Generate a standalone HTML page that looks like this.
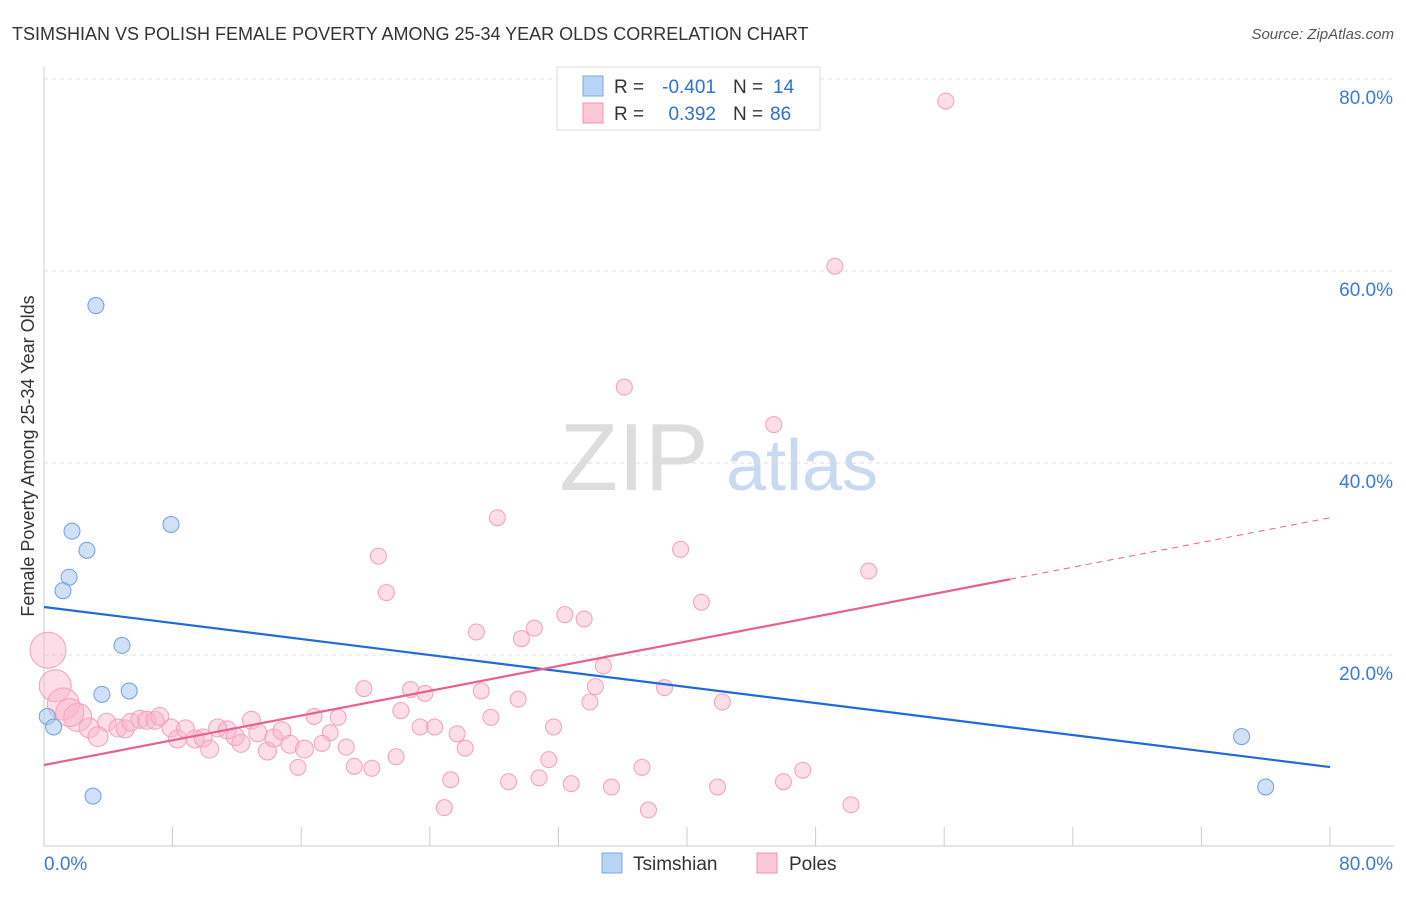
<!DOCTYPE html>
<html><head><meta charset="utf-8"><style>
body{margin:0;background:#fff;font-family:"Liberation Sans",sans-serif}
svg text{font-family:"Liberation Sans",sans-serif}
</style></head><body>
<svg id="c" width="1406" height="892" xmlns="http://www.w3.org/2000/svg">
<text x="12" y="40" font-size="18" fill="#333">TSIMSHIAN VS POLISH FEMALE POVERTY AMONG 25-34 YEAR OLDS CORRELATION CHART</text>
<text x="1394" y="39" font-size="15" fill="#555" font-style="italic" text-anchor="end">Source: ZipAtlas.com</text>
<g>
<text x="634" y="490" font-size="96" fill="#ddd" font-family="Liberation Serif" text-anchor="middle">ZIP</text>
<text x="802" y="490" font-size="72" fill="#c9d9f0" text-anchor="middle">atlas</text>
</g>
<g id="grid"></g><g id="axes"></g><g id="marks"></g>
<text transform="translate(34,456) rotate(-90)" font-size="18" fill="#333" text-anchor="middle">Female Poverty Among 25-34 Year Olds</text>
<g>
<rect x="557" y="67" width="263" height="63" fill="#fff" stroke="#ddd"/>
<rect x="583" y="76" width="20" height="20" fill="#b8d4f5" stroke="#7aa9e6"/>
<rect x="583" y="103" width="20" height="20" fill="#fbc8d8" stroke="#ef93b2"/>
<text x="614" y="93" font-size="19" fill="#333">R =</text>
<text x="716" y="93" font-size="19" fill="#2e6fd6" text-anchor="end">-0.401</text>
<text x="733" y="93" font-size="19" fill="#333">N =</text>
<text x="773" y="93" font-size="19" fill="#2e6fd6">14</text>
<text x="614" y="120" font-size="19" fill="#333">R =</text>
<text x="716" y="120" font-size="19" fill="#2e6fd6" text-anchor="end">0.392</text>
<text x="733" y="120" font-size="19" fill="#333">N =</text>
<text x="770" y="120" font-size="19" fill="#2e6fd6">86</text>
</g>
<g>
<rect x="602" y="853" width="20" height="20" fill="#b8d4f5" stroke="#7aa9e6"/>
<text x="633" y="870" font-size="19" fill="#333">Tsimshian</text>
<rect x="757" y="853" width="20" height="20" fill="#fbc8d8" stroke="#ef93b2"/>
<text x="789" y="870" font-size="19" fill="#333">Poles</text>
</g>
</svg>
<script>
const blueX=[3.23,1.74,7.9,2.67,1.56,1.18,4.85,3.6,5.3,0.2,0.6,3.05,74.5,76.0];
const blueY=[56.4,32.9,33.6,30.9,28.1,26.7,21.0,15.9,16.25,13.6,12.5,5.3,11.5,6.25];
const pinkX=[56.1,49.2,36.1,45.4,28.2,39.6,20.8,51.3,21.3,40.9,32.4,33.6,30.5,26.9,29.7,34.8,34.3,19.9,38.6,22.8,23.7,27.2,29.5,33.96,42.2,22.2,16.8,18.3,27.8,31.7,23.4,24.3,17.8,25.7,17.3,18.8,26.2,21.9,31.4,15.8,19.3,20.4,37.2,47.2,25.3,28.9,30.8,32.8,35.3,41.9,46.0,24.9,37.6,50.2,0.25,0.7,1.2,2.1,2.8,3.36,3.9,4.6,5.05,5.4,5.97,6.4,6.9,7.2,7.9,8.3,8.8,9.4,9.9,10.3,10.8,11.4,11.9,12.25,12.9,13.3,13.9,14.3,14.8,15.3,16.2,1.6];
const pinkY=[77.7,60.5,47.9,44.0,34.3,31.0,30.3,28.75,26.5,25.5,24.2,23.75,22.8,22.4,21.7,18.85,16.7,16.5,16.6,16.4,16.0,16.25,15.4,15.1,15.1,14.2,13.6,13.5,13.5,12.5,12.5,12.5,11.9,11.8,10.8,10.4,10.3,9.4,9.1,8.3,8.4,8.2,8.3,8.0,7.0,6.8,7.2,6.6,6.25,6.25,6.8,4.1,3.85,4.4,20.5,16.8,14.9,13.5,12.4,11.5,13.0,12.4,12.3,13.0,13.3,13.2,13.2,13.6,12.4,11.25,12.3,11.25,11.35,10.2,12.4,12.2,11.5,10.8,13.2,11.9,10.0,11.35,12.1,10.7,10.2,14.0];
const pinkR=[8,8,8,8,8,8,8,8,8,8,8,8,8,8,8,8,8,8,8,8,8,8,8,8,8,8,8,8,8,8,8,8,8,8,8,8,8,8,8,8,8,8,8,8,8,8,8,8,8,8,8,8,8,8,18,16,16,14,10,10,9,9,9,9,9,9,9,9,9,9,9,9,9,9,9,9,9,9,9,9,9,9,9,9,9,14];
const yTicks=[20,40,60,80];
const yTickLabels=["20.0%","40.0%","60.0%","80.0%"];
const xTicks=[0,8,16,24,32,40,48,56,64,72,80];
const blueTrend=[25.0,8.33];
const pinkTrend=[8.54,34.3];
const pinkSolidEnd=60.1;
const X=v=>44+v*16.075, Y=v=>847-v*9.6;
const NS="http://www.w3.org/2000/svg";
function mk(p,t,a){const e=document.createElementNS(NS,t);for(const k in a)e.setAttribute(k,a[k]);p.appendChild(e);return e;}
const gridG=document.getElementById('grid'),axesG=document.getElementById('axes'),marksG=document.getElementById('marks');
yTicks.forEach((t,i)=>{const l=mk(gridG,'line',{x1:44,x2:1394,y1:Y(t),y2:Y(t),stroke:'#ddd','stroke-dasharray':'4,4'});


const tx=mk(gridG,'text',{x:1393,y:Y(t)+25,'font-size':19,fill:'#3c78d8','text-anchor':'end'});tx.textContent=yTickLabels[i];

});
const topGrid=mk(gridG,'line',{x1:44,x2:1394,y1:79,y2:79,stroke:'#ddd','stroke-dasharray':'4,4'});


mk(axesG,'line',{x1:44,x2:44,y1:67,y2:846,stroke:'#ccc'});
mk(axesG,'line',{x1:44,x2:1394,y1:846,y2:846,stroke:'#ccc'});
xTicks.forEach(t=>{const l=mk(axesG,'line',{x1:X(t),x2:X(t),y1:827,y2:846,stroke:'#ccc'});

});
const xl0=mk(axesG,'text',{x:44,y:870,'font-size':19,fill:'#3c78d8'});xl0.textContent='0.0%';


const xl1=mk(axesG,'text',{x:1393,y:870,'font-size':19,fill:'#3c78d8','text-anchor':'end'});xl1.textContent='80.0%';


pinkX.forEach((x,i)=>{const c=mk(marksG,'circle',{cx:X(x),cy:Y(pinkY[i]),r:pinkR[i],fill:'rgba(248,180,204,0.45)',stroke:'#f0a0bc','stroke-width':1});

});
blueX.forEach((x,i)=>{const c=mk(marksG,'circle',{cx:X(x),cy:Y(blueY[i]),r:8,fill:'rgba(170,200,240,0.55)',stroke:'#6f9fe0','stroke-width':1});

});
const bt=mk(marksG,'line',{x1:X(0),y1:Y(blueTrend[0]),x2:X(80),y2:Y(blueTrend[1]),stroke:'#1f6ad6','stroke-width':2.2});


const py=v=>pinkTrend[0]+(pinkTrend[1]-pinkTrend[0])*v/80;
const pt=mk(marksG,'line',{x1:X(0),y1:Y(py(0)),x2:X(pinkSolidEnd),y2:Y(py(pinkSolidEnd)),stroke:'#e8608f','stroke-width':2.2});


const pd=mk(marksG,'line',{x1:X(pinkSolidEnd),y1:Y(py(pinkSolidEnd)),x2:X(80),y2:Y(py(80)),stroke:'#e8608f','stroke-width':1,'stroke-dasharray':'6,5'});


</script>
</body></html>
